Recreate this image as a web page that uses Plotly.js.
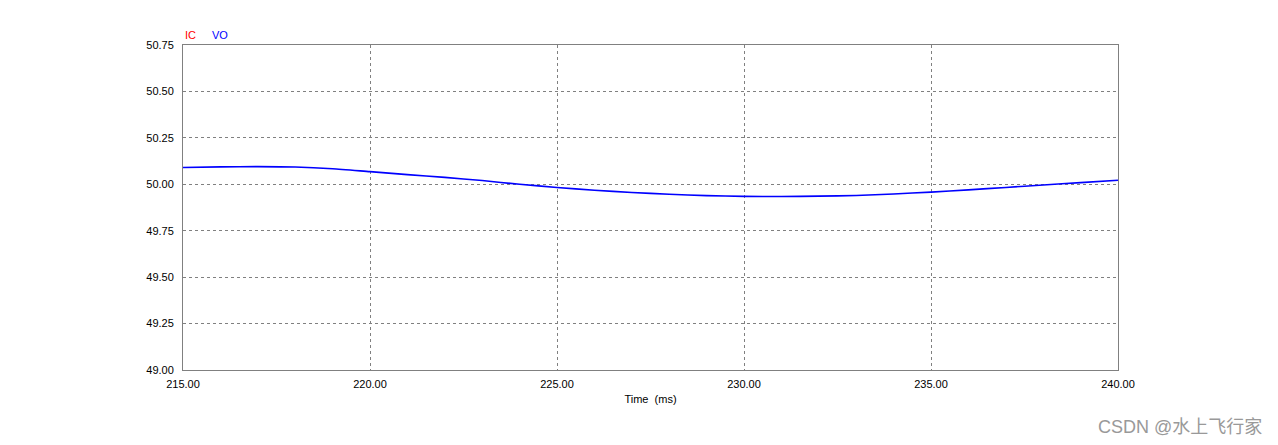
<!DOCTYPE html>
<html>
<head>
<meta charset="utf-8">
<script src="https://cdn.plot.ly/plotly-3.0.1.min.js"></script>
<style>html,body{margin:0;padding:0;background:#fff;}#chart{width:1278px;height:445px;}</style>
</head>
<body>
<div id="chart"></div>
<script>
var timeMs = [215,216,217,218,219,220,221,222,223,224,225,226,227,228,229,230,231,232,233,234,235,236,237,238,239,240];
var vo = [50.090,50.094,50.095,50.093,50.084,50.068,50.052,50.037,50.020,50.000,49.983,49.968,49.956,49.946,49.939,49.935,49.934,49.936,49.940,49.948,49.958,49.970,49.983,49.996,50.009,50.022];
var xTicks = [215,220,225,230,235,240];
var yTicks = [49.00,49.25,49.50,49.75,50.00,50.25,50.50,50.75];

var traces = [{
  x: timeMs, y: vo, mode: 'lines', name: 'VO', line: {color: '#0000ff', width: 1.6, shape: 'spline', smoothing: 0.6}, showlegend: false
}];

var font = {family: 'Liberation Sans, Arial, sans-serif', size: 11, color: '#000'};
var layout = {
  width: 1278, height: 445,
  margin: {l: 183, r: 160, t: 45, b: 75},
  paper_bgcolor: '#fff', plot_bgcolor: '#fff',
  font: font,
  xaxis: {
    range: [215, 240], tickvals: xTicks, tickformat: '.2f',
    showgrid: true, gridcolor: '#808080', griddash: '3px,3px', gridwidth: 1,
    showline: true, linecolor: '#808080', linewidth: 1, mirror: true,
    zeroline: false, ticks: '', ticklabelstandoff: 4,
    title: {text: 'Time  (ms)', font: font, standoff: 6}
  },
  yaxis: {
    range: [49, 50.75], tickvals: yTicks, tickformat: '.2f',
    showgrid: true, gridcolor: '#808080', griddash: '3px,3px', gridwidth: 1,
    showline: true, linecolor: '#808080', linewidth: 1, mirror: true,
    zeroline: false, ticks: '', ticklabelstandoff: 6
  },
  annotations: [
    {text: 'IC', xref: 'paper', yref: 'paper', x: 0, y: 1, xanchor: 'left', yanchor: 'bottom', yshift: 2, showarrow: false, font: {family: font.family, size: 11, color: '#ff0000'}},
    {text: 'VO', xref: 'paper', yref: 'paper', x: 0, y: 1, xanchor: 'left', yanchor: 'bottom', xshift: 27, yshift: 2, showarrow: false, font: {family: font.family, size: 11, color: '#0000ff'}},
    {text: 'CSDN @水上飞行家', xref: 'paper', yref: 'paper', x: 1, y: 0, xanchor: 'right', yanchor: 'middle', xshift: 146, yshift: -57, showarrow: false, font: {family: 'Liberation Sans, Noto Sans CJK SC, sans-serif', size: 18, color: '#999999'}}
  ]
};
Plotly.newPlot('chart', traces, layout, {displayModeBar: false, staticPlot: true});
</script>
</body>
</html>
